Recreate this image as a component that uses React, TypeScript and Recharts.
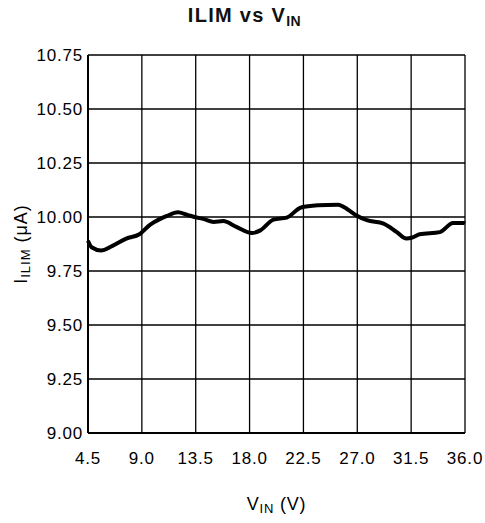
import { CartesianGrid, Label, Line, LineChart, XAxis, YAxis } from 'recharts';

// V_IN (V) sample points
const vin = [
  4.5, 4.8, 5.6, 6.5, 7.7, 8.8, 9.7, 10.5, 11.1, 12.0, 12.8, 13.4, 14.2, 15.0, 15.8, 16.9,
  18.2, 18.9, 20.0, 21.1, 22.3, 23.7, 25.4, 26.2, 26.9, 27.8, 29.2, 30.3, 31.1, 31.6, 32.2,
  33.9, 35.0, 35.9, 36.0,
];
// I_ILIM (uA)
const ilim = [
  9.89, 9.86, 9.845, 9.865, 9.9, 9.92, 9.965, 9.99, 10.005, 10.022, 10.01, 10.0, 9.99, 9.977,
  9.981, 9.954, 9.926, 9.938, 9.988, 9.997, 10.044, 10.054, 10.057, 10.035, 10.008, 9.985,
  9.969, 9.93, 9.9, 9.905, 9.92, 9.93, 9.972, 9.972, 9.97,
];

const xTicks = [4.5, 9.0, 13.5, 18.0, 22.5, 27.0, 31.5, 36.0];
const yTicks = [9.0, 9.25, 9.5, 9.75, 10.0, 10.25, 10.5, 10.75];

const data = vin.map((v, i) => ({ vin: v, ilim: ilim[i] }));

const font = '"Liberation Sans", Arial, Helvetica, sans-serif';
const tickStyle = { fontSize: 17, fill: '#000', fontFamily: font, letterSpacing: 0.8 };

function XLabel(props: any) {
  const vb = props.viewBox;
  const cx = vb.x + vb.width / 2;
  const y = vb.y + 77;
  return (
    <text x={cx} y={y} textAnchor="middle" fontFamily={font} fontSize={18} fill="#000" letterSpacing={0.8}>
      <tspan>V</tspan>
      <tspan fontSize={13} dy={3}>IN</tspan>
      <tspan dy={-3}> (V)</tspan>
    </text>
  );
}

function YLabel() {
  const x = 27;
  const y = 244;
  return (
    <text
      x={x}
      y={y}
      transform={`rotate(-90 ${x} ${y})`}
      textAnchor="middle"
      fontFamily={font}
      fontSize={18}
      fill="#000"
      letterSpacing={1}
    >
      <tspan>I</tspan>
      <tspan fontSize={13} dy={3}>ILIM</tspan>
      <tspan dy={-3}> (μA)</tspan>
    </text>
  );
}

export default function App() {
  return (
    <div style={{ position: 'absolute', left: 0, top: 0, width: 485, height: 523, background: '#fff' }}>
      <div
        style={{
          position: 'absolute',
          left: 0,
          top: 4,
          width: 485,
          textAlign: 'center',
          fontFamily: font,
          fontWeight: 'bold',
          fontSize: 20,
          letterSpacing: 1.3,
          color: '#111',
          paddingLeft: 2,
        }}
      >
        ILIM vs V<sub style={{ fontSize: 14, verticalAlign: -4, letterSpacing: 0.5 }}>IN</sub>
      </div>
      <LineChart width={485} height={523} data={data} margin={{ top: 55, right: 20, bottom: 0, left: 0 }}>
        <CartesianGrid stroke="#000" strokeWidth={1.3} horizontal vertical />
        <XAxis
          dataKey="vin"
          type="number"
          domain={[4.5, 36]}
          ticks={xTicks}
          tickFormatter={(v: number) => v.toFixed(1)}
          tick={tickStyle}
          tickLine={false}
          tickSize={0}
          tickMargin={19}
          axisLine={{ stroke: '#000', strokeWidth: 2 }}
          height={90}
          interval={0}
        >
          <Label content={<XLabel />} />
        </XAxis>
        <YAxis
          type="number"
          domain={[9, 10.75]}
          ticks={yTicks}
          tickFormatter={(v: number) => v.toFixed(2)}
          tick={tickStyle}
          tickLine={false}
          tickSize={0}
          tickMargin={5}
          axisLine={{ stroke: '#000', strokeWidth: 2 }}
          width={88}
          interval={0}
        >
          <Label content={<YLabel />} />
        </YAxis>
        <Line
          type="monotone"
          dataKey="ilim"
          stroke="#000"
          strokeWidth={4}
          dot={false}
          isAnimationActive={false}
        />
      </LineChart>
    </div>
  );
}
